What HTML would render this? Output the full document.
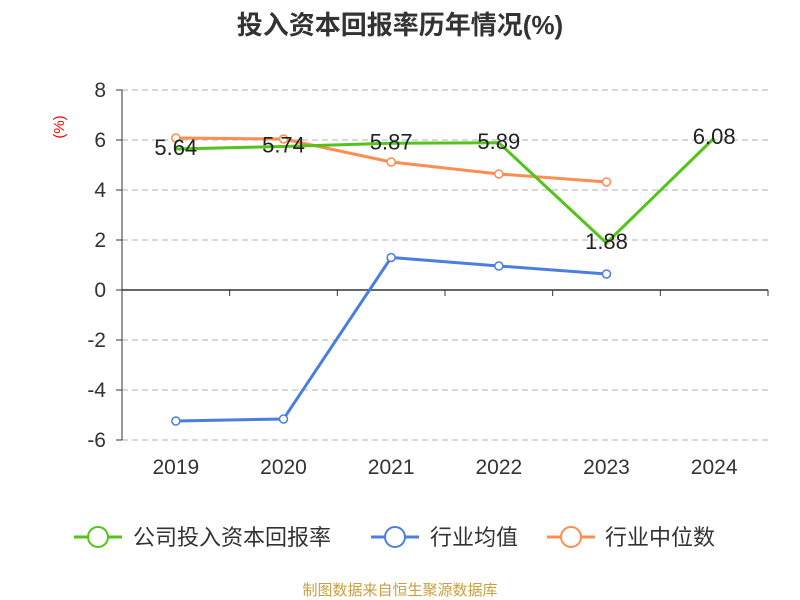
<!DOCTYPE html>
<html><head><meta charset="utf-8"><style>
body{margin:0;background:#fff;}
svg{display:block;font-family:"Liberation Sans","Noto Sans CJK SC",sans-serif;}
</style></head><body>
<svg id="chart" width="800" height="600">
<text x="400" y="34" text-anchor="middle" font-size="26" font-weight="bold" fill="#333">投入资本回报率历年情况(%)</text>
<text transform="translate(64,127) rotate(-90)" text-anchor="middle" font-size="15" fill="#e00">(%)</text>
<g id="grid"></g><g id="axes"></g><g id="series"></g>
<g>
<g><line x1="74" y1="537" x2="122" y2="537" stroke="#52c41a" stroke-width="3"/><circle cx="98" cy="537" r="10" fill="#fff" stroke="#52c41a" stroke-width="2"/><text x="133" y="545" font-size="22" fill="#333">公司投入资本回报率</text></g>
<g><line x1="371" y1="537" x2="419" y2="537" stroke="#4a7fe0" stroke-width="3"/><circle cx="395" cy="537" r="10" fill="#fff" stroke="#4a7fe0" stroke-width="2"/><text x="430" y="545" font-size="22" fill="#333">行业均值</text></g>
<g><line x1="547" y1="537" x2="595" y2="537" stroke="#ff8c50" stroke-width="3"/><circle cx="571" cy="537" r="10" fill="#fff" stroke="#ff8c50" stroke-width="2"/><text x="605" y="545" font-size="22" fill="#333">行业中位数</text></g>
</g>
<text x="400" y="595" text-anchor="middle" font-size="15" fill="#c8a040">制图数据来自恒生聚源数据库</text>
</svg>
<script>
const categories=["2019","2020","2021","2022","2023","2024"];
const companyValues=[5.64,5.74,5.87,5.89,1.88,6.08];
const avgValues=[-5.24,-5.16,1.30,0.96,0.64];
const medianValues=[6.08,6.04,5.12,4.64,4.32];
const yTicks=[8,6,4,2,0,-2,-4,-6];
const NS="http://www.w3.org/2000/svg";
const X0=122,X1=768,Y0=290,unit=25;
const bw=(X1-X0)/categories.length;
function xs(i){return X0+bw*(i+0.5);}
function ys(v){return Y0-v*unit;}
function mk(tag,attrs,parent,txt){const e=document.createElementNS(NS,tag);for(const k in attrs)e.setAttribute(k,attrs[k]);if(txt!==undefined)e.textContent=txt;document.getElementById(parent).appendChild(e);return e;}
yTicks.forEach(t=>{
 if(t!==0){const g=mk('line',{x1:X0,x2:X1,y1:ys(t),y2:ys(t),stroke:'#ccc','stroke-dasharray':'6,4','stroke-width':1.5},'grid');
 
 }
 const tk=mk('line',{x1:X0-6,x2:X0,y1:ys(t),y2:ys(t),stroke:'#333'},'axes');
 
 
 const l=mk('text',{x:X0-16,y:ys(t)+7,'text-anchor':'end','font-size':21,fill:'#333'},'axes',String(t));
 
 
});
const ya=mk('line',{x1:X0,x2:X0,y1:ys(yTicks[0]),y2:ys(yTicks[yTicks.length-1]),stroke:'#333'},'axes');


const xa=mk('line',{x1:X0,x2:X1,y1:Y0,y2:Y0,stroke:'#333','stroke-width':1.5},'axes');


for(let i=0;i<=categories.length;i++){const t=mk('line',{x1:X0+bw*i,x2:X0+bw*i,y1:Y0,y2:Y0+6,stroke:'#333'},'axes');

}
categories.forEach((c,i)=>{const t=mk('text',{x:xs(i),y:474,'text-anchor':'middle','font-size':21,fill:'#333'},'axes',c);

});
function series(vals,color,name,markers){
 const p=mk('polyline',{points:vals.map((v,i)=>xs(i)+','+ys(v)).join(' '),fill:'none',stroke:color,'stroke-width':3},'series');
 
 
 if(markers)vals.forEach((v,i)=>{const c=mk('circle',{cx:xs(i),cy:ys(v),r:4,fill:'#fff',stroke:color,'stroke-width':1.5},'series');
 
 });
}
series(medianValues,'#ff8c50','industry-median',true);
series(avgValues,'#4a7fe0','industry-avg',true);
series(companyValues,'#52c41a','company',false);
companyValues.forEach((v,i)=>{
 const t=mk('text',{x:xs(i),y:ys(v)+6,'text-anchor':'middle','font-size':22,fill:'#222'},'series',v.toFixed(2));
 
 
});
</script>
</body></html>
